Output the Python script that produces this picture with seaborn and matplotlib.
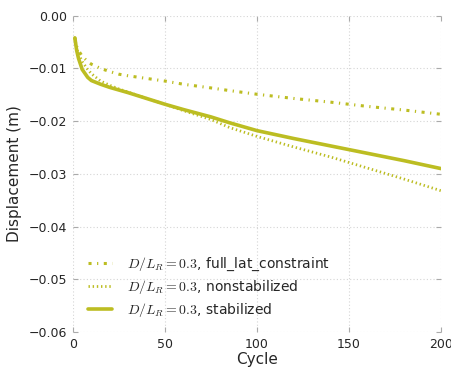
import numpy as np
import pandas as pd
import matplotlib
matplotlib.use("Agg")
import matplotlib.pyplot as plt
import seaborn as sns

cycles = [1, 2, 3, 5, 8, 10, 15, 20, 25, 30, 40, 50, 60, 75, 85, 100, 120, 140, 160, 180, 200]
full_lat = [-0.0042, -0.0058, -0.0066, -0.0077, -0.0087, -0.0092, -0.0100, -0.0106, -0.0111,
            -0.0114, -0.0119, -0.0124, -0.0130, -0.0137, -0.0142, -0.0149, -0.0157, -0.0164,
            -0.0172, -0.0179, -0.0187]
nonstab = [-0.0042, -0.0062, -0.0072, -0.0087, -0.0102, -0.0110, -0.0124, -0.0132, -0.0139,
           -0.0145, -0.0157, -0.0168, -0.0180, -0.0197, -0.0212, -0.0229, -0.0249, -0.0268,
           -0.0289, -0.0310, -0.0332]
stab = [-0.0042, -0.0066, -0.0081, -0.0102, -0.0117, -0.0123, -0.0130, -0.0136, -0.0141,
        -0.0146, -0.0157, -0.0168, -0.0178, -0.0192, -0.0203, -0.0218, -0.0233, -0.0247,
        -0.0261, -0.0275, -0.0290]

labels = [r"$D/L_R=0.3$, full_lat_constraint",
          r"$D/L_R=0.3$, nonstabilized",
          r"$D/L_R=0.3$, stabilized"]
xticks = [0, 50, 100, 150, 200]
yticks = [0.00, -0.01, -0.02, -0.03, -0.04, -0.05, -0.06]

sns.set_theme(style="white")
plt.rcParams['font.family'] = ['DejaVu Sans']
plt.rcParams['mathtext.fontset'] = 'cm'

color = "#bcbd22"
fig, ax = plt.subplots(figsize=(4.52, 3.71), dpi=100)
fig.subplots_adjust(left=0.1615, right=0.9757, top=0.9577, bottom=0.105)

styles = [dict(linestyle=(0, (1.0, 1.8, 0.4, 1.8)), lw=2.2),
          dict(linestyle=(0, (0.5, 1.0)), lw=2.0),
          dict(linestyle='-', lw=2.6)]
for vals, lab, st in zip([full_lat, nonstab, stab], labels, styles):
    df = pd.DataFrame({"Cycle": cycles, "Displacement": vals})
    sns.lineplot(data=df, x="Cycle", y="Displacement", ax=ax, color=color,
                 label=lab, **st)
for l in ax.get_lines():
    l.set_dash_capstyle('butt')

ax.set_xlim(0, 200)
ax.set_ylim(-0.06, 0.0)
ax.set_xticks(xticks)
ax.set_yticks(yticks)
ax.set_yticklabels([f"{v:.2f}".replace("-", "\u2212") for v in yticks])
ax.set_xlabel("Cycle", fontsize=11, labelpad=1)
ax.set_ylabel("Displacement (m)", fontsize=11, labelpad=5)
ax.tick_params(axis='both', labelsize=9, direction='in', length=3.5, width=0.8,
               color='#aaaaaa', top=True, right=True, bottom=True, left=True, pad=4)
ax.grid(True, linestyle=(0, (1, 2)), color='#d5d5d5', lw=0.8)
for s in ax.spines.values():
    s.set_visible(False)
leg = ax.legend(loc='lower left', frameon=False, fontsize=10, handlelength=1.7,
                handletextpad=1.1, borderaxespad=0, labelspacing=0.35,
                bbox_to_anchor=(0.026, 0.024))
fig.savefig("out.png", dpi=100)
